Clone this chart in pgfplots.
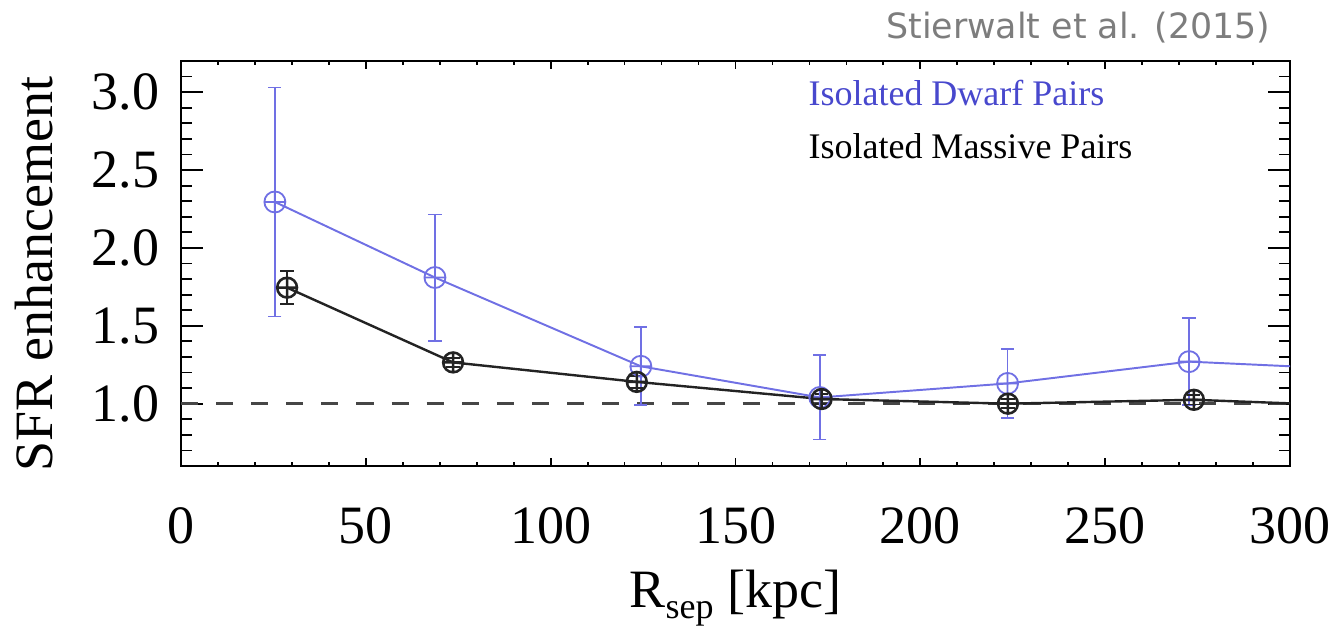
\documentclass[border=0pt]{standalone}
\usepackage{fontspec}
\setmainfont{Liberation Serif}
\newfontfamily\notefont{DejaVu Sans}
\usepackage{pgfplots}
\pgfplotsset{compat=1.18}
\usepackage{pgfplotstable}

\definecolor{dwarfblue}{RGB}{112,112,228}
\definecolor{dwarftext}{RGB}{72,72,205}
\definecolor{massive}{RGB}{35,35,35}
\definecolor{refline}{RGB}{70,70,70}
\definecolor{notegray}{RGB}{125,125,125}

% SFR enhancement of isolated pairs vs. projected separation
\pgfplotstableread{
x      y      e
25.4   2.295  0.735
68.7   1.81   0.405
124.4  1.24   0.25
172.8  1.04   0.27
223.6  1.13   0.22
272.7  1.27   0.28
}\dwarfpairs

\pgfplotstableread{
x      y      e
28.7   1.745  0.105
73.6   1.265  0.03
123.3  1.14   0.04
173.3  1.03   0.03
223.7  1.00   0.03
274.0  1.025  0.03
}\massivepairs

\begin{document}
\begin{tikzpicture}
\begin{axis}[
  scale only axis,
  width=369.67pt, height=135pt,
  xmin=0, xmax=300, ymin=0.6, ymax=3.2,
  xtick={0,50,100,150,200,250,300},
  xticklabels={0,50,100,150,200,250,300},
  minor xtick={10,20,30,40,60,70,80,90,110,120,130,140,160,170,180,190,210,220,230,240,260,270,280,290},
  ytick={1,1.5,2,2.5,3},
  yticklabels={1.0,1.5,2.0,2.5,3.0},
  minor ytick={0.7,0.8,0.9,1.1,1.2,1.3,1.4,1.6,1.7,1.8,1.9,2.1,2.2,2.3,2.4,2.6,2.7,2.8,2.9,3.1},
  tick align=inside,
  axis line style={line width=0.9pt},
  every tick/.style={black, line width=0.6pt},
  xtick style={/pgfplots/major tick length=2.7pt, /pgfplots/minor tick length=1.35pt},
  ytick style={/pgfplots/major tick length=7.3pt, /pgfplots/minor tick length=3.7pt},
  tick label style={font=\fontsize{18}{18}\selectfont},
  xticklabel style={anchor=base, yshift=-25.7pt, inner sep=0pt},
  yticklabel style={anchor=east, xshift=-7pt, inner sep=0pt},
  clip=true,
]

% reference level: no enhancement
\addplot[refline, line width=1pt, dash pattern=on 5.7pt off 6pt] coordinates {(0,1) (300,1)};

% isolated dwarf pairs
\addplot[dwarfblue, line width=0.65pt, mark=oplus, mark size=3.5pt,
  mark options={solid, line width=0.6pt},
  error bars/.cd, y dir=both, y explicit,
  error bar style={dwarfblue, line width=0.6pt},
  error mark options={rotate=90, mark size=2.2pt, dwarfblue, line width=0.6pt}]
  table[x=x, y=y, y error=e] {\dwarfpairs};
\addplot[dwarfblue, line width=0.65pt] coordinates {(272.7,1.27) (325,1.213)};

% isolated massive pairs
\addplot[massive, line width=0.8pt, mark=oplus, mark size=3.3pt,
  mark options={solid, line width=0.85pt},
  error bars/.cd, y dir=both, y explicit,
  error bar style={massive, line width=0.6pt},
  error mark options={rotate=90, mark size=2.2pt, massive, line width=0.6pt}]
  table[x=x, y=y, y error=e] {\massivepairs};
\addplot[massive, line width=0.8pt] coordinates {(274.0,1.025) (325,0.98)};

\node[anchor=base west, inner sep=0pt, text=dwarftext, font=\fontsize{12}{12}\selectfont]
  at (axis cs:169.6,2.917) {Isolated Dwarf Pairs};
\node[anchor=base west, inner sep=0pt, text=black, font=\fontsize{12}{12}\selectfont]
  at (axis cs:169.6,2.577) {Isolated Massive Pairs};
\end{axis}

\node[rotate=90, anchor=base, inner sep=0pt, font=\fontsize{18}{18}\selectfont]
  at (-42.7pt,64pt) {SFR enhancement};
\node[anchor=base, inner sep=0pt, font=\fontsize{18}{18}\selectfont]
  at (184.8pt,-47.3pt) {R\raisebox{-3.4pt}{\fontsize{12}{12}\selectfont sep} [kpc]};
\node[anchor=base east, inner sep=0pt, text=notegray, font=\notefont\fontsize{11.6}{12}\selectfont]
  at (363.3pt,142.4pt) {Stierwalt et al. (2015)};

\pgfresetboundingbox
\path[use as bounding box] (-60.33pt,-53.67pt) rectangle (383.67pt,155.33pt);
\end{tikzpicture}
\end{document}
